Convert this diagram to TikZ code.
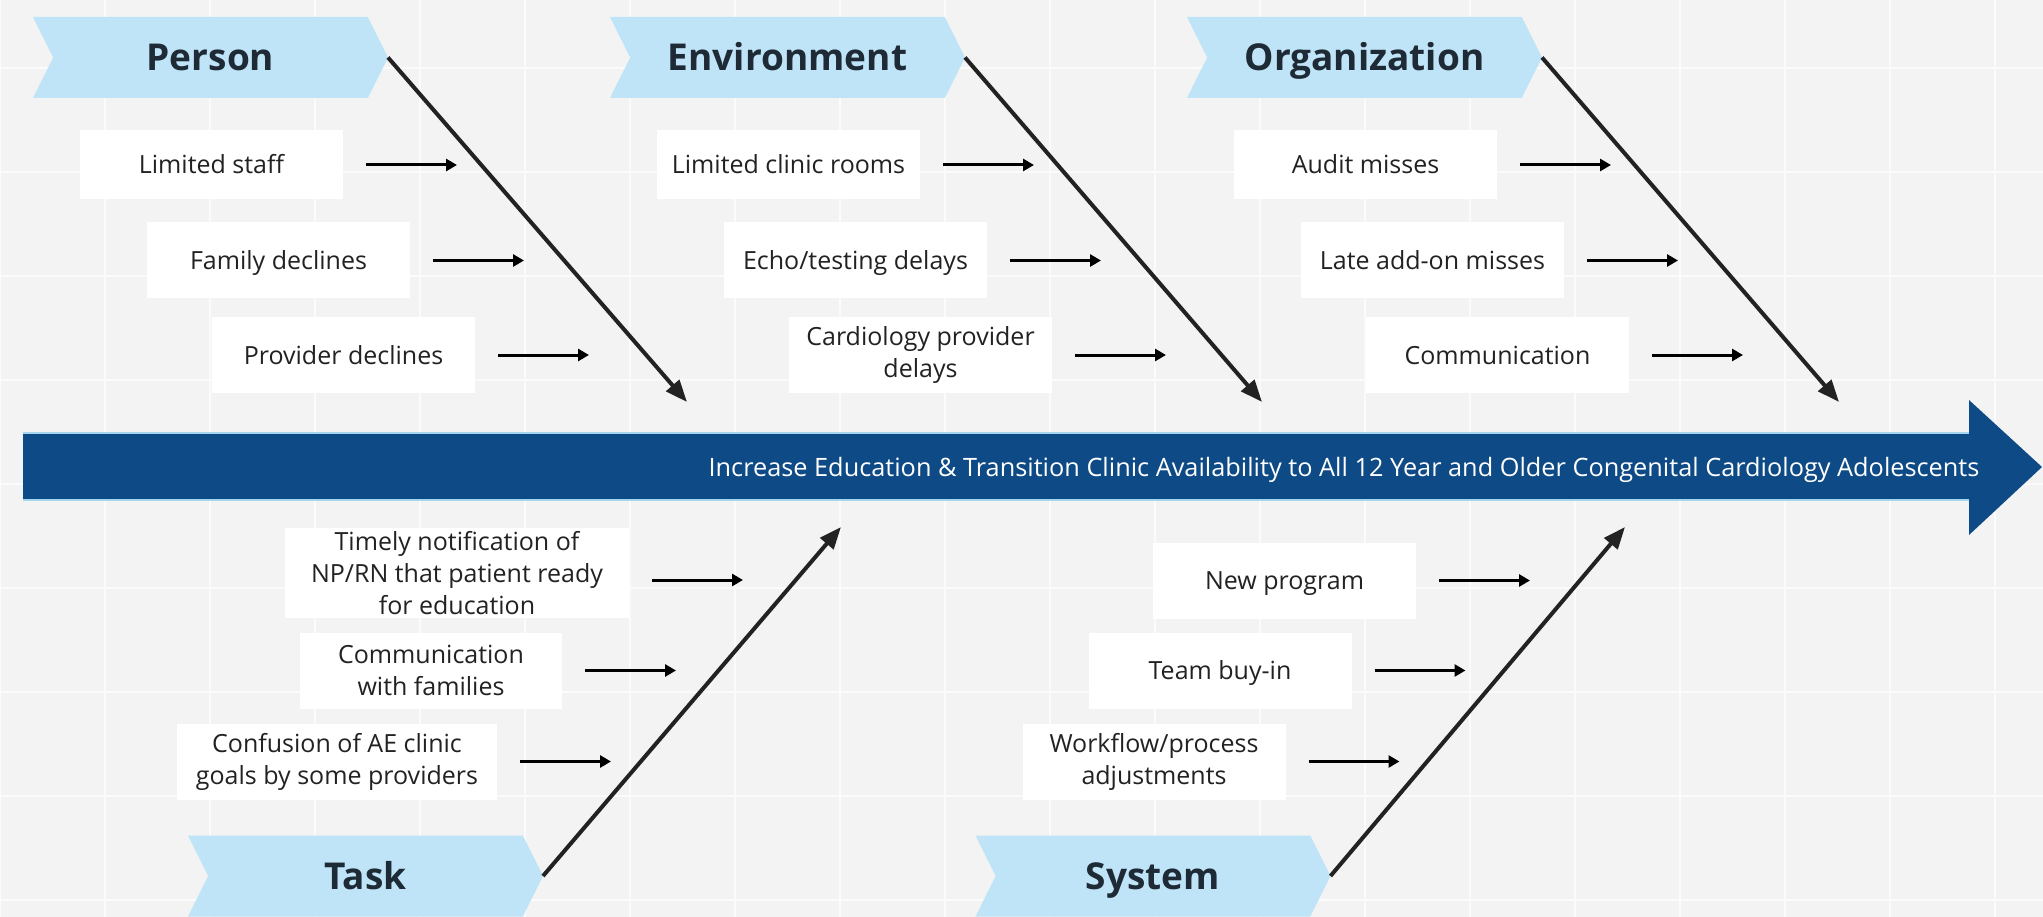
\documentclass[tikz,border=0pt]{standalone}
\usepackage{fontspec}
\setmainfont{Open Sans}
\usepackage{tikz}
\usetikzlibrary{shapes.symbols}
\usetikzlibrary{arrows.meta}
\usetikzlibrary{positioning}
\usetikzlibrary{calc}

\definecolor{bggray}{HTML}{F3F3F3}
\definecolor{gridwhite}{HTML}{FBFBFB}
\definecolor{chevblue}{HTML}{BFE4F7}
\definecolor{headtext}{HTML}{1E2A35}
\definecolor{spineblue}{HTML}{0D4A86}
\definecolor{spineedge}{HTML}{A6D6EE}
\definecolor{bonegray}{HTML}{222222}
\definecolor{causetext}{HTML}{222222}

\begin{document}
\begin{tikzpicture}[x=1pt, y=-1pt, every node/.style={inner sep=0pt, outer sep=0pt},
    header/.style={signal, signal from=west, signal to=east, signal pointer angle=127, fill=chevblue, minimum width=355pt, minimum height=81pt, text height=26pt, text depth=0pt, text=headtext, font=\fontsize{37}{42}\selectfont\bfseries},
    causebox/.style={fill=white, minimum width=263pt, minimum height=76pt, align=center, text=causetext, font=\fontsize{25}{32}\selectfont},
    oneline/.style={text height=18pt, text depth=0pt},
    bone/.style={draw=bonegray, line width=4pt, -{Triangle[length=22pt, width=17pt]}},
    feed/.style={draw=black, line width=3pt, shorten <=23pt, -{Triangle[length=11pt, width=12pt]}}]

        % Background with the light grid
        \useasboundingbox (0,0) rectangle (2043,917);
        \fill[bggray] (0,0) rectangle (2043,917);
        \foreach \i in {0,...,19}
        {
          \draw[gridwhite, line width=2pt] (105*\i,0) -- (105*\i,917);
        }
        \foreach \j in {0,...,8}
        {
          \draw[gridwhite, line width=2pt] (0,68+104*\j) -- (2043,68+104*\j);
        }

        % Define the distance between two bones
        \def\gap{577}

        % Draw the spine
        \fill[spineblue] (23,433) -- (1969,433) -- (1969,400) -- (2042,467) -- (1969,535) -- (1969,500) -- (23,500) -- cycle;
        \draw[spineedge, line width=1.5pt] (23,433) -- (1969,433);
        \draw[spineedge, line width=1.5pt] (23,500) -- (1969,500);
        \node[text=white, oneline, font=\fontsize{25.3}{30}\selectfont] (goal) at (1344,467) {Increase Education \& Transition Clinic Availability to All 12 Year and Older Congenital Cardiology Adolescents};

        % Draw the category heads
        \node[header] (person) at (210.5,57.5) {Person};
        \node[header] (environment) at (210.5+\gap,57.5) {Environment};
        \node[header] (organization) at (210.5+2*\gap,57.5) {Organization};
        \node[header] (task) at (365.5,876) {Task};
        \node[header] (system) at (1153,876) {System};

        % Ends of the bones on the spine
        \coordinate (person-end) at (687,402);
        \coordinate (environment-end) at (1262,402);
        \coordinate (organization-end) at (1839,402);
        \coordinate (task-end) at (841,527);
        \coordinate (system-end) at (1625,527);

        \draw[bone] (person.east) -- (person-end);
        \draw[bone] (environment.east) -- (environment-end);
        \draw[bone] (organization.east) -- (organization-end);
        \draw[bone] (task.east) -- (task-end);
        \draw[bone] (system.east) -- (system-end);

        % Causes above the spine
        \node[causebox, oneline, minimum height=69pt] (ls) at (211.5,165) {Limited staff};
        \node[causebox, oneline] (fd) at (278.5,260.5) {Family declines};
        \node[causebox, oneline] (pd) at (343.5,355) {Provider declines};

        \node[causebox, oneline, minimum height=69pt] (lcr) at (211.5+\gap,165) {Limited clinic rooms};
        \node[causebox, oneline] (etd) at (278.5+\gap,260.5) {Echo/testing delays};
        \node[causebox] (cpd) at (343.5+\gap,355) {Cardiology provider\\delays};

        \node[causebox, oneline, minimum height=69pt] (am) at (211.5+2*\gap,165) {Audit misses};
        \node[causebox, oneline] (lam) at (278.5+2*\gap,260.5) {Late add-on misses};
        \node[causebox, oneline] (com) at (343.5+2*\gap,355) {Communication};

        % Causes below the spine
        \node[causebox, minimum width=344pt, minimum height=90pt] (tn) at (457,573) {Timely notification of\\NP/RN that patient ready\\for education};
        \node[causebox, minimum width=262pt] (cwf) at (431,670.5) {Communication\\with families};
        \node[causebox, minimum width=320pt] (cae) at (337,761.5) {Confusion of AE clinic\\goals by some providers};

        \node[causebox, oneline] (np) at (1284.5,580.5) {New program};
        \node[causebox, oneline] (tb) at (1220,670.5) {Team buy-in};
        \node[causebox] (wpa) at (1154,761.5) {Workflow/process\\adjustments};

        % Small arrows from each cause towards its bone
        \foreach \c in {ls, fd, pd, lcr, etd, cpd, am, lam, com, cwf, cae, np, tb, wpa}
        {
          \coordinate (\c-to) at ($(\c.east)+(114,0)$);
          \draw[feed] (\c.east) -- (\c-to);
        }
        \coordinate (tn-from) at ($(tn.east)+(0,7)$);
        \coordinate (tn-to) at ($(tn.east)+(114,7)$);
        \draw[feed] (tn-from) -- (tn-to);
      \end{tikzpicture}
\end{document}
